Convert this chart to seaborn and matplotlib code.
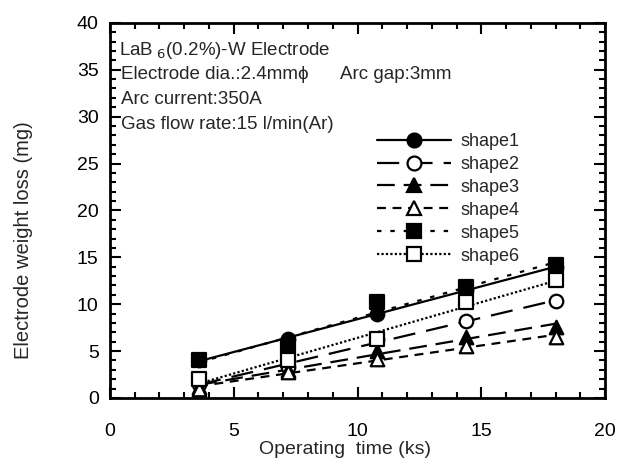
import numpy as np
import pandas as pd
import seaborn as sns
import matplotlib.pyplot as plt
from matplotlib.lines import Line2D
from matplotlib.ticker import MultipleLocator

# Data (operating time in ks, weight loss in mg)
time_ks = [3.6, 7.2, 10.8, 14.4, 18.0]
shape1 = [4.0, 6.3, 9.0, 11.5, 14.0]
shape2 = [1.5, 3.3, 6.3, 8.2, 10.3]
shape3 = [1.2, 3.0, 5.0, 6.5, 7.6]
shape4 = [1.0, 2.8, 4.2, 5.5, 6.5]
shape5 = [4.0, 5.5, 10.2, 11.8, 14.2]
shape6 = [2.0, 4.0, 6.3, 10.2, 12.6]
labels = ["shape1", "shape2", "shape3", "shape4", "shape5", "shape6"]
series = [shape1, shape2, shape3, shape4, shape5, shape6]

df = pd.DataFrame({"time": time_ks * 6,
                   "loss": sum(series, []),
                   "shape": np.repeat(labels, len(time_ks))})

sns.set_style("ticks")
plt.rcParams["font.family"] = ["Liberation Sans", "DejaVu Sans"]

styles = {
    "shape1": dict(marker="o", mfc="black", ls="-"),
    "shape2": dict(marker="o", mfc="white", ls=(0, (10, 5))),
    "shape3": dict(marker="^", mfc="black", ls=(0, (8, 4))),
    "shape4": dict(marker="^", mfc="white", ls=(0, (4, 3))),
    "shape5": dict(marker="s", mfc="black", ls=(0, (2, 4))),
    "shape6": dict(marker="s", mfc="white", ls=(0, (1, 1))),
}

fig, ax = plt.subplots(figsize=(6.35, 4.66), dpi=100)

for name in labels:
    st = styles[name]
    sub = df[df["shape"] == name]
    sns.regplot(data=sub, x="time", y="loss", ax=ax, ci=None,
                marker=st["marker"],
                scatter_kws=dict(s=95, facecolors=st["mfc"], edgecolors="black",
                                 linewidths=1.6, zorder=3, alpha=1),
                line_kws=dict(color="black", lw=1.6, ls=st["ls"]))

ax.set_xlim(0, 20)
ax.set_ylim(0, 40)
ax.xaxis.set_major_locator(MultipleLocator(5))
ax.xaxis.set_minor_locator(MultipleLocator(1))
ax.yaxis.set_major_locator(MultipleLocator(5))
ax.yaxis.set_minor_locator(MultipleLocator(1))
ax.tick_params(which="both", direction="in", top=True, right=True, width=1.5, colors="black")
ax.tick_params(which="major", length=8, labelsize=14, pad=8)
ax.tick_params(axis="x", which="major", pad=18)
ax.tick_params(which="minor", length=4)
for sp in ax.spines.values():
    sp.set_linewidth(2)
    sp.set_color("black")

ax.set_xlabel("Operating  time (ks)", fontsize=14)
ax.xaxis.set_label_coords(0.475, -0.115)
ax.set_ylabel("Electrode weight loss (mg)", fontsize=14.5)
ax.yaxis.set_label_coords(-0.155, 0.42)

info = dict(transform=ax.transData, fontsize=13.5, va="center", ha="left")
ax.text(0.35, 37.1, "LaB$_{\\ 6}$(0.2%)-W Electrode", **info)
ax.text(0.45, 34.45, "Electrode dia.:2.4mm\u03d5", **info)
ax.text(9.3, 34.45, "Arc gap:3mm", **info)
ax.text(0.45, 31.8, "Arc current:350A", **info)
ax.text(0.45, 29.2, "Gas flow rate:15 l/min(Ar)", **info)

handles = [Line2D([], [], color="black", lw=1.6, ls=styles[n]["ls"], marker=styles[n]["marker"],
                  markerfacecolor=styles[n]["mfc"], markeredgecolor="black",
                  markeredgewidth=1.6, markersize=10) for n in labels]
ax.legend(handles, labels, loc="upper left", bbox_to_anchor=(0.507, 0.75), frameon=False,
          fontsize=13, handlelength=4.1, labelspacing=0.33, handletextpad=0.5)

plt.subplots_adjust(left=0.173, right=0.953, top=0.951, bottom=0.146)
plt.savefig("out.png", dpi=100)
